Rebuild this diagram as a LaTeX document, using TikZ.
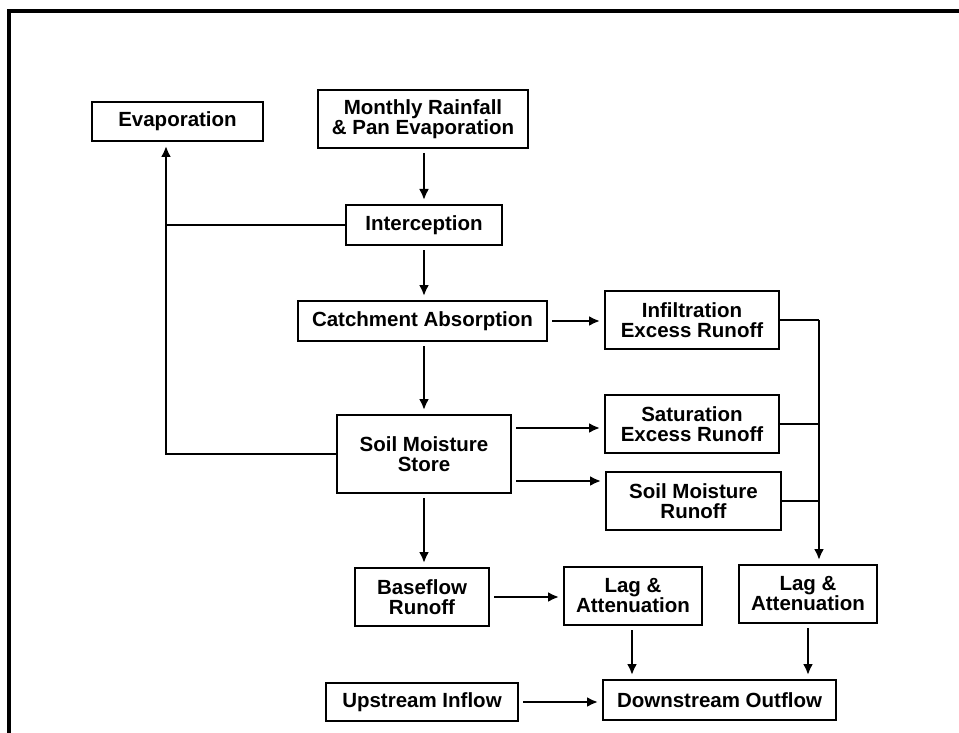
\documentclass[tikz,border=0pt]{standalone}
\usepackage{fontspec}
\setmainfont{Liberation Sans}
\usetikzlibrary{arrows.meta,calc}
\begin{document}
\begin{tikzpicture}[x=1pt,y=-1pt,
  box/.style={draw,line width=2pt,inner sep=0pt,align=center,
    font=\bfseries\fontsize{20.5}{20}\selectfont},
  flow/.style={line width=2.4pt,-{Latex[length=11pt,width=10pt]},shorten >=4pt,shorten <=4pt},
  link/.style={line width=2.4pt}]
\useasboundingbox (0,0) rectangle (959,733);
\fill[white] (0,0) rectangle (959,733);
\draw[line width=3.4pt] (959,11) -- (9,11) -- (9,733);
% boxes
\node[box,minimum width=171pt,minimum height=39pt] (evap) at (177.5,121.5) {Evaporation};
\node[box,minimum width=210pt,minimum height=58pt] (rain) at (423,119) {Monthly Rainfall\\\& Pan Evaporation};
\node[box,minimum width=156pt,minimum height=40pt] (inter) at (424,225) {Interception};
\node[box,minimum width=249pt,minimum height=40pt] (catch) at (422.5,321) {Catchment Absorption};
\node[box,minimum width=174pt,minimum height=58pt] (infil) at (692,320) {Infiltration\\Excess Runoff};
\node[box,minimum width=174pt,minimum height=58pt] (satur) at (692,424) {Saturation\\Excess Runoff};
\node[box,minimum width=175pt,minimum height=58pt] (smrun) at (693.5,501) {Soil Moisture\\Runoff};
\node[box,minimum width=174pt,minimum height=78pt] (sms) at (424,454) {Soil Moisture\\Store};
\node[box,minimum width=134pt,minimum height=58pt] (base) at (422,597) {Baseflow\\Runoff};
\node[box,minimum width=138pt,minimum height=58pt] (lagA) at (633,596) {Lag \&\\Attenuation};
\node[box,minimum width=138pt,minimum height=58pt] (lagB) at (808,594) {Lag \&\\Attenuation};
\node[box,minimum width=233pt,minimum height=40pt] (down) at (719.5,700) {Downstream Outflow};
\node[box,minimum width=192pt,minimum height=38pt] (up) at (422,702) {Upstream Inflow};
% helper coordinates
\coordinate (evin) at ($(evap.south)+(-11.5,0)$);
\coordinate (evcorner) at (evin |- sms.west);
\coordinate (smsA) at ($(sms.east)+(0,-26)$);
\coordinate (smsB) at ($(sms.east)+(0,27)$);
\coordinate (rline) at ($(lagB.north)+(11,0)$);
\coordinate (rtop) at (rline |- infil.east);
% connectors
\draw[flow] (rain.south -| inter.north) -- (inter.north);
\draw[flow] (inter.south) -- (inter.south |- catch.north);
\draw[flow] (catch.south -| sms.north) -- (sms.north);
\draw[flow] (catch.east) -- (infil.west |- catch.east);
\draw[flow] (smsA) -- (satur.west |- smsA);
\draw[flow] (smsB) -- (smrun.west |- smsB);
\draw[flow] (sms.south) -- (sms.south |- base.north);
\draw[flow,shorten <=0pt] (sms.west) -- (evcorner) -- (evin);
\draw[link] (inter.west) -- (inter.west -| evin);
\draw[link] (infil.east) -- (rtop);
\draw[link] (satur.east) -- (satur.east -| rline);
\draw[link] (smrun.east) -- (smrun.east -| rline);
\draw[flow,shorten <=0pt] (rtop) -- (rline);
\draw[flow] (base.east) -- (lagA.west |- base.east);
\draw[flow] ($(lagA.south)+(-1,0)$) -- ($(lagA.south |- down.north)+(-1,0)$);
\draw[flow] (lagB.south) -- (lagB.south |- down.north);
\draw[flow] (up.east) -- (down.west |- up.east);
\end{tikzpicture}
\end{document}
